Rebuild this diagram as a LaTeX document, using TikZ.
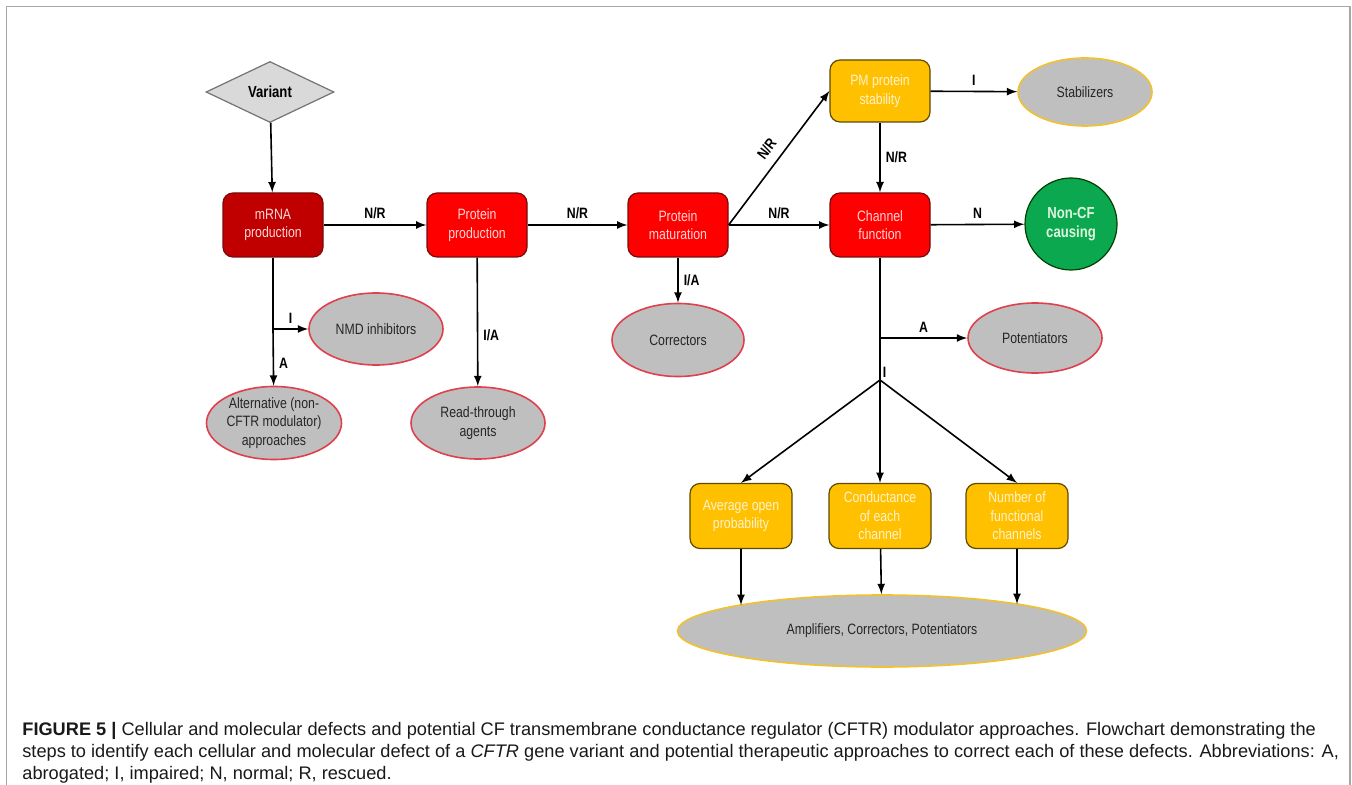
\documentclass[tikz,border=0pt]{standalone}
\usepackage{fontspec}
\setmainfont{Liberation Sans}
\newfontfamily\narrowsf{Liberation Sans}[FakeStretch=0.82]
\usepackage{tikz}
\usetikzlibrary{shapes,positioning,calc}
\usetikzlibrary{shapes.geometric, arrows}
\usetikzlibrary{arrows.meta}
\definecolor{mrnared}{HTML}{C00000}
\definecolor{boxred}{HTML}{FF0000}
\definecolor{redline}{HTML}{7A0A0A}
\definecolor{boxyel}{HTML}{FFC000}
\definecolor{yelline}{HTML}{5E4A00}
\definecolor{ovalgray}{HTML}{BFBFBF}
\definecolor{ovalred}{HTML}{E0404E}
\definecolor{ovalyel}{HTML}{F2C12E}
\definecolor{okgreen}{HTML}{0BA84F}
\definecolor{redtxt}{HTML}{FFD5D5}
\definecolor{yeltxt}{HTML}{FFF2CC}
\definecolor{greentxt}{HTML}{DDF5DD}
\definecolor{framegray}{HTML}{A6A6A6}
\tikzstyle{start} = [diamond, aspect=2.1, minimum width=64pt, minimum height=30.5pt, inner sep=0pt,
fill=black!15, draw=black!55, line width=0.6pt, font=\narrowsf\bfseries\fontsize{8pt}{9pt}\selectfont]
\tikzstyle{defect} = [rectangle, rounded corners=5pt, minimum width=50pt, minimum height=32pt, inner sep=1pt,
text centered, align=center, fill=boxred, draw=redline, line width=0.6pt, text=redtxt,
font=\narrowsf\fontsize{7.5pt}{9.25pt}\selectfont]
\tikzstyle{subdefect} = [defect, minimum width=51pt, minimum height=32.5pt, fill=boxyel, draw=yelline, text=yeltxt]
\tikzstyle{therapy} = [ellipse, minimum width=67pt, minimum height=36pt, inner sep=0pt, align=center,
fill=ovalgray, draw=ovalred, line width=0.8pt, text=black!85, font=\narrowsf\fontsize{7.5pt}{9.25pt}\selectfont]
\tikzstyle{arrow} = [line width=0.8pt,->,>=latex]
\tikzstyle{lbl} = [font=\narrowsf\bfseries\fontsize{7.5pt}{9pt}\selectfont, inner sep=2.5pt]

\begin{document}
\begin{tikzpicture}[x=0.5pt, y=-0.5pt]
	\useasboundingbox (0,0) rectangle (1352,785);
	\draw[framegray, line width=0.75pt] (6.5,785) -- (6.5,6.5) -- (1350,6.5) -- (1350,785);

	\node (var) at (270,92) [start] {Variant};
	\node (mrna) at (273,225) [defect, fill=mrnared] {mRNA\\production};
	\node (pprod) at (477,225) [defect] {Protein\\production};
	\node (pmat) at (678,225) [defect] {Protein\\maturation};
	\node (chan) at (880,225) [defect] {Channel\\function};
	\node (pmst) at (880,91) [subdefect, minimum width=50pt, minimum height=31pt] {PM protein\\stability};
	\node (stab) at (1085,92) [therapy, draw=ovalyel, minimum height=34pt] {Stabilizers};
	\node (noncf) at (1071,224) [circle, minimum size=46pt, inner sep=0pt, align=center, fill=okgreen,
		draw=black!75!green, line width=0.6pt, text=greentxt, font=\narrowsf\bfseries\fontsize{8pt}{9.5pt}\selectfont] {Non-CF\\causing};
	\node (nmd) at (376,329) [therapy] {NMD inhibitors};
	\node (alt) at (274,423) [therapy, minimum width=67.5pt, minimum height=36.5pt] {Alternative (non-\\CFTR modulator)\\approaches};
	\node (rthr) at (478,423) [therapy] {Read-through\\agents};
	\node (corr) at (678,340) [therapy, minimum width=66pt, minimum height=36.5pt] {Correctors};
	\node (pot) at (1035,338) [therapy, minimum height=35pt] {Potentiators};
	\node (avgp) at (741,516) [subdefect] {Average open\\probability};
	\node (cond) at (880,516) [subdefect] {Conductance\\of each\\channel};
	\node (nfun) at (1017,516) [subdefect] {Number of\\functional\\channels};
	\node (ampl) at (882,631) [therapy, draw=ovalyel, minimum width=204.5pt] {Amplifiers, Correctors, Potentiators};

	\coordinate (nmdfork) at (mrna.south |- nmd.west);
	\coordinate (potfork) at (chan.south |- pot.west);
	\coordinate (split) at (880,380);
	\coordinate (amplL) at (741,605);
	\coordinate (amplR) at (1017,604);

	\draw[arrow] (var) -- (mrna);
	\draw[arrow] (mrna) -- (pprod) node[lbl,midway,above] {N/R};
	\draw[arrow] (pprod) -- (pmat) node[lbl,midway,above] {N/R};
	\draw[arrow] (pmat) -- (chan) node[lbl,midway,above] {N/R};
	\draw[arrow] (pmat.east) -- (pmst.west) node[lbl,midway,above,sloped,inner sep=4.5pt] {N/R};
	\draw[arrow] (pmst) -- (chan) node[lbl,midway,right] {N/R};
	\draw[arrow] (pmst) -- (stab) node[lbl,midway,above] {I};
	\draw[arrow] (chan) -- (noncf) node[lbl,midway,above] {N};
	\draw[line width=0.8pt] (mrna) -- (nmdfork);
	\draw[arrow] (nmdfork) -- (nmd) node[lbl,midway,above] {I};
	\draw[arrow] (nmdfork) -- (alt) node[lbl,pos=0.6,right] {A};
	\draw[arrow] (pprod) -- (rthr) node[lbl,pos=0.6,right] {I/A};
	\draw[arrow] (pmat) -- (corr) node[lbl,midway,right] {I/A};
	\draw[line width=0.8pt] (chan) -- (split) node[lbl,at end,above right,inner sep=1pt] {I};
	\draw[arrow] (potfork) -- (pot) node[lbl,midway,above] {A};
	\draw[arrow] (split) -- (avgp.north);
	\draw[arrow] (split) -- (cond.north);
	\draw[arrow] (split) -- (nfun.north);
	\draw[arrow] (avgp) -- (amplL);
	\draw[arrow] (cond) -- (ampl);
	\draw[arrow] (nfun) -- (amplR);

	\node (caption) at (22,722) [anchor=north west, inner sep=0pt, align=left, text=black!90,
		font=\fontsize{9.1pt}{11pt}\selectfont] {\textbf{FIGURE 5 |} Cellular and molecular defects and potential CF transmembrane conductance regulator (CFTR) modulator approaches. Flowchart demonstrating the\\
		steps to identify each cellular and molecular defect of a \textit{CFTR} gene variant and potential therapeutic approaches to correct each of these defects. Abbreviations: A,\\
		abrogated; I, impaired; N, normal; R, rescued.};
\end{tikzpicture}
\end{document}
